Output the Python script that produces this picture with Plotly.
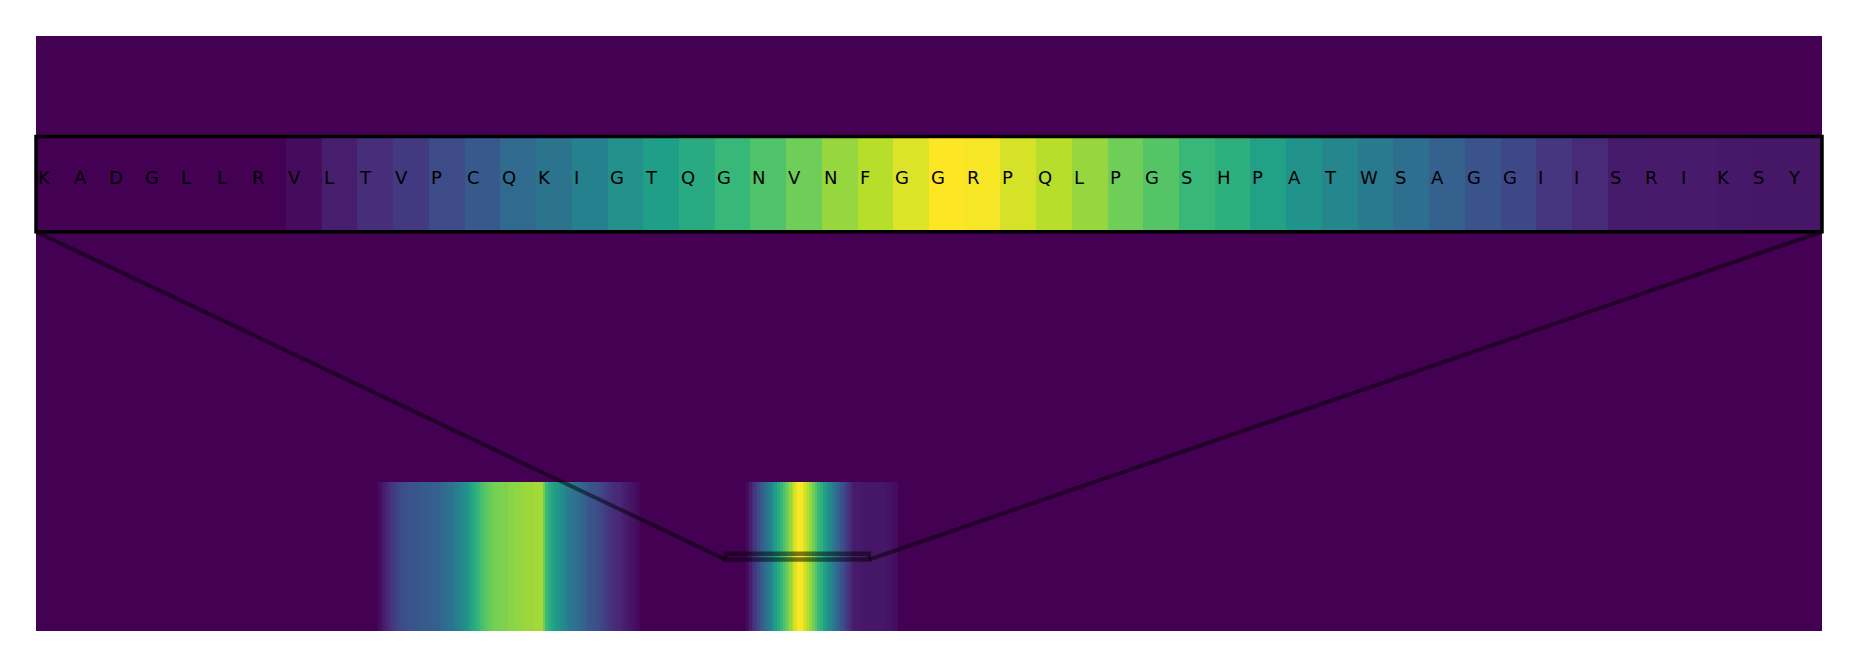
import numpy as np
import plotly.graph_objects as go

# ---------------- data ----------------
SEQ_LEN = 624          # residues along the x axis
ROWS = 60              # image rows (y extent)
BAND_TOP = 15          # rows carrying the signal (bottom band)
WINDOW_START = 241     # first residue of the zoomed window
WINDOW_Y = [7.2, 7.8]  # y-range selected by the zoom

residues = list("KADGLLRVLTVPCQKIGTQGNVNFGGRPQLPGSHPATWSAGGIISRIKSY")
window_values = [0, 0, 0, 0, 0, 0, 0, 0.03, 0.08, 0.13,
                 0.17, 0.23, 0.28, 0.34, 0.38, 0.44, 0.50, 0.56, 0.61, 0.67,
                 0.72, 0.78, 0.84, 0.89, 0.95, 1.00, 0.99, 0.94, 0.89, 0.84,
                 0.78, 0.73, 0.67, 0.63, 0.57, 0.51, 0.46, 0.41, 0.36, 0.31,
                 0.26, 0.22, 0.16, 0.12, 0.075, 0.07, 0.07, 0.065, 0.06, 0.06]

tail_start = 291
tail_values = [0.06, 0.06, 0.06, 0.06, 0.06, 0.06, 0.055, 0.05, 0.04, 0.03]

band1_start = 119
band1_values = [0.02, 0.04, 0.07, 0.10, 0.13, 0.16, 0.19, 0.21, 0.23, 0.24,
                0.25, 0.26, 0.26, 0.27, 0.27, 0.28, 0.28, 0.29, 0.29, 0.30,
                0.30, 0.31, 0.33, 0.34, 0.35, 0.37, 0.38, 0.42, 0.44, 0.46,
                0.48, 0.50, 0.55, 0.59, 0.62, 0.66, 0.70, 0.72, 0.74, 0.76,
                0.78, 0.79, 0.79, 0.80, 0.80, 0.80, 0.82, 0.82, 0.83, 0.83,
                0.84, 0.84, 0.85, 0.85, 0.85, 0.86, 0.86, 0.86, 0.78, 0.68,
                0.62, 0.58, 0.55, 0.52, 0.49, 0.46, 0.43, 0.41, 0.39, 0.37,
                0.35, 0.33, 0.31, 0.29, 0.27, 0.26, 0.25, 0.23, 0.21, 0.19,
                0.17, 0.15, 0.13, 0.12, 0.11, 0.10, 0.08, 0.07, 0.06, 0.05,
                0.04, 0.02]

# ---------------- build the image ----------------
profile = np.zeros(SEQ_LEN)
profile[band1_start:band1_start + len(band1_values)] = band1_values
profile[WINDOW_START:WINDOW_START + len(window_values)] = window_values
profile[tail_start:tail_start + len(tail_values)] = tail_values

z_main = [profile.tolist(), [0.0] * SEQ_LEN]
x_edges = (np.arange(SEQ_LEN + 1) - 0.5).tolist()
y_edges = [0, BAND_TOP, ROWS]

n_win = len(residues)
win_x_edges = (np.arange(WINDOW_START, WINDOW_START + n_win + 1) - 0.5).tolist()
win_x0 = WINDOW_START - 0.5
win_x1 = WINDOW_START + n_win - 0.5

fig = go.Figure()
fig.add_trace(go.Heatmap(z=z_main, x=x_edges, y=y_edges, colorscale="Viridis",
                         zmin=0, zmax=1, showscale=False, hoverinfo="skip",
                         xaxis="x", yaxis="y"))
fig.add_trace(go.Heatmap(z=[window_values], x=win_x_edges,
                         y=[int(WINDOW_Y[0]), int(WINDOW_Y[0]) + 1],
                         colorscale="Viridis", zmin=0, zmax=1, showscale=False,
                         hoverinfo="skip", xaxis="x2", yaxis="y2"))

INSET_DOMAIN_Y = [0.671, 0.831]

hidden = dict(showticklabels=False, showgrid=False, zeroline=False,
              ticks="", showline=False)
fig.update_layout(
    width=1857, height=667,
    margin=dict(l=36, r=35, t=36, b=36),
    paper_bgcolor="white", plot_bgcolor="#440154",
    xaxis=dict(range=[-0.5, SEQ_LEN - 0.5], domain=[0, 1], anchor="y", **hidden),
    yaxis=dict(range=[0, ROWS], domain=[0, 1], anchor="x", **hidden),
    xaxis2=dict(range=[win_x0, win_x1], domain=[0, 1], anchor="y2", **hidden),
    yaxis2=dict(range=WINDOW_Y, domain=INSET_DOMAIN_Y, anchor="x2", **hidden),
    showlegend=False,
)

# letters in the inset
y_text = (WINDOW_Y[0] + WINDOW_Y[1]) / 2 + 0.045
for i, aa in enumerate(residues):
    fig.add_annotation(x=WINDOW_START + i - 0.5, y=y_text, xref="x2", yref="y2",
                       text=aa, showarrow=False, xanchor="left", yanchor="middle",
                       font=dict(family="DejaVu Sans", size=18, color="black"))

# connectors (main data coords -> paper)
def to_paper_x(v):
    return (v - (-0.5)) / SEQ_LEN

def to_paper_y(v):
    return v / ROWS

conn_style = dict(color="rgba(0,0,0,0.5)", width=4)
fig.add_shape(type="line", xref="paper", yref="paper",
              x0=to_paper_x(win_x0), y0=to_paper_y(WINDOW_Y[0]),
              x1=0, y1=INSET_DOMAIN_Y[0], line=conn_style, layer="above")
fig.add_shape(type="line", xref="paper", yref="paper",
              x0=to_paper_x(win_x1), y0=to_paper_y(WINDOW_Y[0]),
              x1=1, y1=INSET_DOMAIN_Y[0], line=conn_style, layer="above")

# zoom rectangle on the main image
fig.add_shape(type="rect", xref="x", yref="y", x0=win_x0, x1=win_x1,
              y0=WINDOW_Y[0], y1=WINDOW_Y[1],
              line=dict(color="rgba(0,0,0,0.5)", width=4.5), layer="above")

# inset frame
fig.add_shape(type="rect", xref="x2 domain", yref="y2 domain", x0=0, x1=1, y0=0, y1=1,
              line=dict(color="black", width=3.5), layer="above")

fig.write_html("out.html")
